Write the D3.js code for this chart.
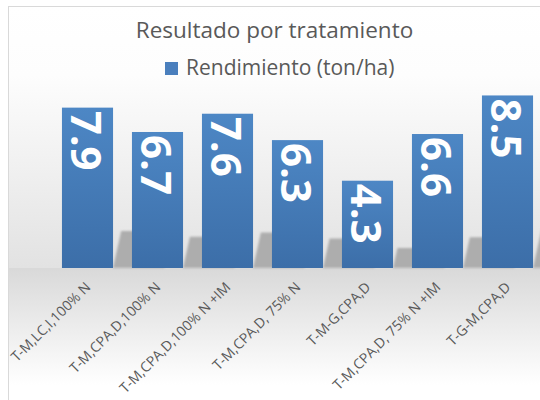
<!DOCTYPE html>
<html>
<head>
<meta charset="utf-8">
<script src="https://cdn.jsdelivr.net/npm/d3@7"></script>
<style>
    body { margin: 0; background: #ffffff; }
    text { font-family: "Open Sans", sans-serif; }
</style>
</head>
<body>
<div id="chart"></div>
<script>
const categories = [
    "T-M,LC,I,100% N",
    "T-M,CPA,D,100% N",
    "T-M,CPA,D,100% N +IM",
    "T-M,CPA,D, 75% N",
    "T-M-G,CPA,D",
    "T-M,CPA,D, 75% N +IM",
    "T-G-M,CPA,D"
];
const rendimiento = [7.9, 6.7, 7.6, 6.3, 4.3, 6.6, 8.5];
const seriesName = "Rendimiento (ton/ha)";
const title = "Resultado por tratamiento";

const width = 540, height = 400;
const floorY = 268;

const svg = d3.select("#chart")
    .append("svg")
    .attr("width", width)
    .attr("height", height);

const defs = svg.append("defs");

const bg = defs.append("linearGradient")
    .attr("id", "bg")
    .attr("gradientUnits", "userSpaceOnUse")
    .attr("x1", 0).attr("y1", 6)
    .attr("x2", 0).attr("y2", 400);
[
    [0, "#ffffff"],
    [(75 - 6) / 394, "#fdfdfd"],
    [(floorY - 6) / 394, "#e2e2e2"],
    [(floorY - 5.5) / 394, "#d9d9d9"],
    [(385 - 6) / 394, "#ffffff"],
    [1, "#ffffff"]
].forEach(s => bg.append("stop").attr("offset", s[0]).attr("stop-color", s[1]));

const barGrad = defs.append("linearGradient")
    .attr("id", "bar")
    .attr("x1", 0).attr("y1", 0)
    .attr("x2", 0).attr("y2", 1);
barGrad.append("stop").attr("offset", 0).attr("stop-color", "#4d87c5");
barGrad.append("stop").attr("offset", 1).attr("stop-color", "#3c6ea8");

defs.append("filter")
    .attr("id", "blur")
    .attr("x", -0.2).attr("y", -0.2)
    .attr("width", 1.4).attr("height", 1.4)
    .append("feGaussianBlur")
    .attr("stdDeviation", 1.3);

// chart area
svg.append("rect")
    .attr("x", 8.5)
    .attr("y", 6.5)
    .attr("width", 560)
    .attr("height", 420)
    .attr("fill", "url(#bg)")
    .attr("stroke", "#d9d9d9");

const x = d3.scaleBand()
    .domain(categories)
    .range([52.5, 542.5])
    .paddingInner(0.27)
    .paddingOuter(0.135);

const y = d3.scaleLinear()
    .domain([0, 9])
    .range([floorY, floorY - 9 * 20.3]);

// perspective shadows behind bars
svg.append("g")
    .selectAll("polygon")
    .data(rendimiento)
    .enter()
    .append("polygon")
    .attr("fill", "#adadad")
    .attr("filter", "url(#blur)")
    .attr("points", (d, i) => {
        const x0 = x(categories[i]) + x.bandwidth();
        const hs = (y(0) - y(d)) * 0.23;
        const sk = hs * 0.22;
        return [
            [x0, y(0)],
            [x0 + x.bandwidth(), y(0)],
            [x0 + x.bandwidth() + sk, y(0) - hs],
            [x0 + sk, y(0) - hs]
        ].map(p => p.join(",")).join(" ");
    });

svg.append("g")
    .selectAll("rect")
    .data(rendimiento)
    .enter()
    .append("rect")
    .attr("x", (d, i) => x(categories[i]))
    .attr("y", d => y(d))
    .attr("width", x.bandwidth())
    .attr("height", d => y(0) - y(d))
    .attr("fill", "url(#bar)");

const valueSize = 42;
svg.append("g")
    .selectAll("text")
    .data(rendimiento)
    .enter()
    .append("text")
    .attr("transform", (d, i) =>
        "translate(" + (x(categories[i]) + x.bandwidth() / 2) + "," + (y(d) + 3) + ") rotate(90)")
    .attr("y", valueSize * 0.36 + 1)
    .attr("fill", "#ffffff")
    .style("font-size", valueSize + "px")
    .style("font-weight", "bold")
    .text(d => d3.format(".1f")(d));

// category labels
svg.append("g")
    .selectAll("text")
    .data(categories)
    .enter()
    .append("text")
    .attr("transform", d =>
        "translate(" + (x(d) + x.bandwidth() / 2 + 4) + "," + (floorY + 20) + ") rotate(-45)")
    .attr("text-anchor", "end")
    .attr("fill", "#595959")
    .style("font-size", "14px")
    .text(d => d);

svg.append("text")
    .attr("x", 274.5)
    .attr("y", 38)
    .attr("text-anchor", "middle")
    .attr("fill", "#595959")
    .style("font-size", "22.5px")
    .text(title);

const legend = svg.append("g");
legend.append("rect")
    .attr("x", 165)
    .attr("y", 62)
    .attr("width", 13)
    .attr("height", 13)
    .attr("fill", "#4a7fbd");
legend.append("text")
    .attr("x", 186)
    .attr("y", 75)
    .attr("fill", "#595959")
    .style("font-size", "21px")
    .text(seriesName);
</script>
</body>
</html>
